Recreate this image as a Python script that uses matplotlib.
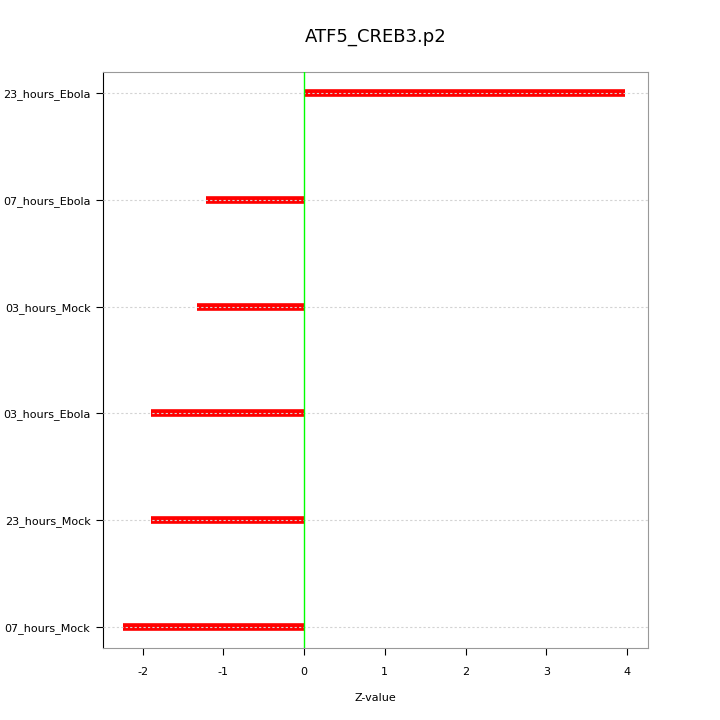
import matplotlib
matplotlib.use('Agg')
import matplotlib.pyplot as plt

# conditions, bottom to top
labels = ['07_hours_Mock', '23_hours_Mock', '03_hours_Ebola',
          '03_hours_Mock', '07_hours_Ebola', '23_hours_Ebola']
zvalues = [-2.24, -1.90, -1.89, -1.33, -1.21, 3.98]
xticks = [-2, -1, 0, 1, 2, 3, 4]

fig = plt.figure(figsize=(7.2, 7.2), dpi=100)
ax = fig.add_axes([0.143, 0.1, 0.757, 0.8])

pos = list(range(1, len(labels) + 1))
ax.hlines(pos, 0, zvalues, colors='#ff0000', linewidth=5.5, zorder=2)
for p in pos:
    ax.axhline(p, color='#d3d3d3', linestyle=(0, (2, 2)), linewidth=0.8, zorder=3)
ax.axvline(0, color='#00ff00', linewidth=1, zorder=4)

ax.set_xlim(-2.49, 4.26)
ax.set_ylim(0.8, 6.2)
ax.set_yticks(pos)
ax.set_yticklabels(labels, fontsize=8)
ax.set_xticks(xticks)
ax.set_xticklabels([str(t) for t in xticks], fontsize=8)
ax.tick_params(length=5, width=0.8)
ax.tick_params(axis='x', pad=9)
ax.tick_params(axis='y', pad=4)
ax.set_xlabel('Z-value', fontsize=8, labelpad=11)
ax.set_title('ATF5_CREB3.p2', fontsize=13, pad=22)

for side in ['top', 'right', 'bottom']:
    ax.spines[side].set_color('#999999')
ax.spines['left'].set_color('black')

fig.savefig('out.png', dpi=100)
